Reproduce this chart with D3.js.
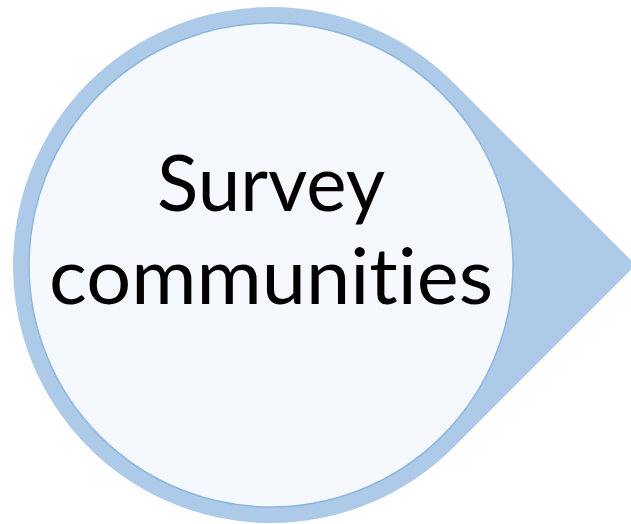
<!DOCTYPE html>
<html><head><meta charset="utf-8">
<script src="https://cdn.jsdelivr.net/npm/d3@7"></script>
<style>html,body{margin:0;padding:0;background:#fff;}svg{display:block;}text{font-variant-ligatures:none;font-feature-settings:"liga" 0,"clig" 0;}</style>
</head><body>
<svg id="c" width="631" height="524"></svg>
<script>
const labels = ["Survey", "communities"];
const shapeColors = ["#adcbe8", "#f5f9fd", "#8db7e0"];

const svg = d3.select("#c");
const cx = 271, cy = 265, rOuter = 258, rInner = 242;
const tipAngle = Math.PI / 4;

const p = d3.path();
const tipX = cx + rOuter * Math.SQRT2, tipY = cy;
p.moveTo(tipX, tipY);
p.lineTo(cx + rOuter * Math.cos(-tipAngle), cy + rOuter * Math.sin(-tipAngle));
p.arc(cx, cy, rOuter, -tipAngle, tipAngle, true);
p.closePath();
svg.append("path").attr("d", p.toString()).attr("fill", shapeColors[0]);

svg.append("circle").attr("cx", cx).attr("cy", cy).attr("r", rInner)
  .attr("fill", shapeColors[1]).attr("stroke", shapeColors[2]).attr("stroke-width", 1.5);

const y = d3.scalePoint().domain(labels).range([211, 304]);
svg.selectAll("text.lbl").data(labels).join("text")
  .attr("class", "lbl")
  .attr("x", cx).attr("y", d => y(d))
  .attr("text-anchor", "middle")
  .attr("font-family", "Lato, 'Open Sans', sans-serif")
  .attr("font-size", 77)
  .attr("fill", "#000")
  .attr("textLength", (d, i) => i === 0 ? 228 : 444)
  .attr("lengthAdjust", "spacingAndGlyphs")
  .text(d => d);
</script>
</body></html>
